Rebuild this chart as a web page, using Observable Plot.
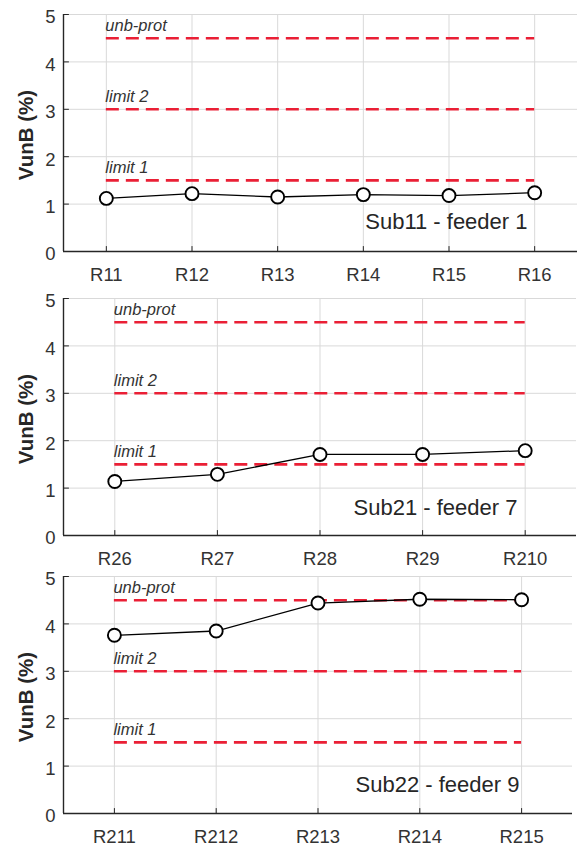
<!DOCTYPE html>
<html>
<head>
<meta charset="utf-8">
<script src="https://cdn.jsdelivr.net/npm/d3@7"></script>
<script src="https://cdn.jsdelivr.net/npm/@observablehq/plot@0.6"></script>
<style>
  body { margin: 0; background: #fff; }
  #chart { position: relative; width: 579px; height: 850px; overflow: hidden; }
  #chart > svg { position: absolute; left: 0; }
</style>
</head>
<body>
<div id="chart"></div>
<script>
// ---- data ----
const labels1 = ["R11", "R12", "R13", "R14", "R15", "R16"];
const values1 = [1.12, 1.22, 1.15, 1.20, 1.18, 1.24];
const title1 = "Sub11 - feeder 1";

const labels2 = ["R26", "R27", "R28", "R29", "R210"];
const values2 = [1.14, 1.29, 1.71, 1.71, 1.79];
const title2 = "Sub21 - feeder 7";

const labels3 = ["R211", "R212", "R213", "R214", "R215"];
const values3 = [3.76, 3.85, 4.44, 4.52, 4.51];
const title3 = "Sub22 - feeder 9";

const limitNames = ["unb-prot", "limit 2", "limit 1"];
const limitValues = [4.5, 3, 1.5];
const yTicks = [0, 1, 2, 3, 4, 5];
const yLabel = "VunB (%)";

// ---- drawing ----
const FONT = "'Liberation Sans', Arial, sans-serif";
const INK = "#262626";
const tickShape = {draw(ctx, l) { ctx.moveTo(0, 0); ctx.lineTo(0, -l); }};

function panel(labels, values, title, cfg) {
  const n = labels.length;
  const xTicks = d3.range(1, n + 1);
  const pts = values.map((v, i) => ({x: i + 1, y: v}));
  const limits = limitValues.map((v, i) => ({v, name: limitNames[i]}));
  const svg = Plot.plot({
    width: 579,
    height: cfg.height,
    marginTop: 14,
    marginBottom: cfg.marginBottom,
    marginLeft: 63,
    marginRight: cfg.marginRight,
    style: {fontFamily: FONT, fontSize: "18px", background: "transparent", color: INK, overflow: "visible"},
    x: {type: "linear", domain: [0.5, n + 0.5]},
    y: {domain: [0, 5]},
    marks: [
      Plot.gridY(yTicks, {stroke: "#d9d9d9", strokeOpacity: 1, strokeWidth: 1}),
      Plot.gridX(xTicks, {stroke: "#d9d9d9", strokeOpacity: 1, strokeWidth: 1}),
      Plot.axisY(yTicks, {tickSize: 0, tickPadding: 8, dy: 3, fill: "#333", fontSize: 18.5, label: null}),
      Plot.axisX(xTicks, {tickSize: 0, tickPadding: 16, tickFormat: i => labels[i - 1], fill: "#333", fontSize: 18.5, label: null}),
      Plot.vector(yTicks, {y: d => d, frameAnchor: "left", rotate: 90, length: 5, anchor: "start", shape: tickShape, stroke: INK, strokeWidth: 1}),
      Plot.vector(xTicks, {x: d => d, frameAnchor: "bottom", rotate: 0, length: 5, anchor: "start", shape: tickShape, stroke: INK, strokeWidth: 1}),
      Plot.ruleY([0], {stroke: INK, strokeWidth: 1.4}),
      Plot.ruleX([0.5], {y1: 0, y2: 5, stroke: INK, strokeWidth: 1.4}),
      Plot.ruleY(limits, {y: "v", x1: 1, x2: n, stroke: "#ea1f35", strokeWidth: 2.6, strokeDasharray: "13,7"}),
      Plot.text(limits, {x: 1, y: "v", text: "name", textAnchor: "start", dx: -1, dy: -12.5, fontStyle: "italic", fontSize: 16.5, fill: "#333"}),
      Plot.line(pts, {x: "x", y: "y", stroke: "#000", strokeWidth: 1.3}),
      Plot.dot(pts, {x: "x", y: "y", r: 6.5, stroke: "#000", fill: "white", strokeWidth: 1.9}),
      Plot.text([title], {frameAnchor: "bottom-right", textAnchor: "end", dx: cfg.titleDx, dy: cfg.titleDy, fontSize: 22, fill: INK}),
      Plot.text([yLabel], {frameAnchor: "left", textAnchor: "middle", rotate: -90, dx: -37, dy: 2, fontWeight: "bold", fontSize: 20.5, fill: INK})
    ]
  });
  svg.style.top = cfg.top + "px";
  document.getElementById("chart").appendChild(svg);
}

panel(labels1, values1, title1, {top: 0, height: 289, marginBottom: 38, marginRight: 2, titleDx: -50, titleDy: -23});
panel(labels2, values2, title2, {top: 284, height: 289, marginBottom: 38, marginRight: 3, titleDx: -59, titleDy: -21});
panel(labels3, values3, title3, {top: 562, height: 288, marginBottom: 37, marginRight: 7, titleDx: -53, titleDy: -22});
</script>
</body>
</html>
